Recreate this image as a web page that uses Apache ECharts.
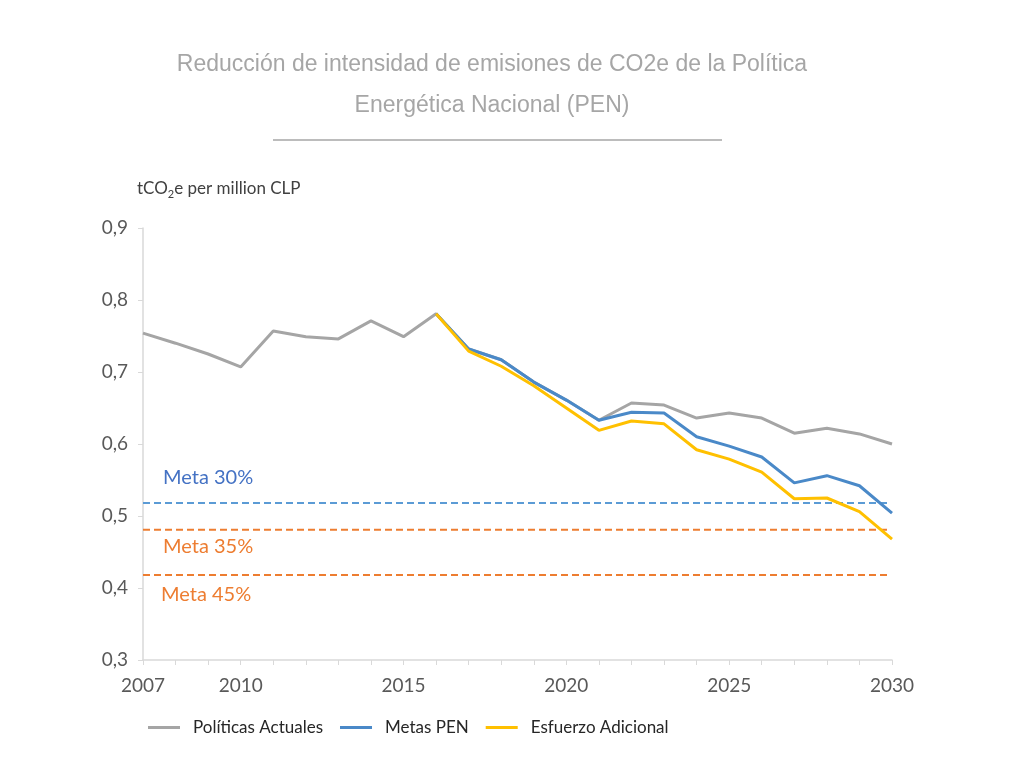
<!DOCTYPE html>
<html>
<head>
<meta charset="utf-8">
<title>Reducción de intensidad de emisiones</title>
<script src="https://cdn.jsdelivr.net/npm/echarts@6/dist/echarts.min.js"></script>
<style>
    html, body { margin: 0; padding: 0; background: #fff; }
    #main { width: 1024px; height: 768px; }
</style>
</head>
<body>
<div id="main"></div>
<script>
// años del eje x
const years = [2007, 2008, 2009, 2010, 2011, 2012, 2013, 2014, 2015, 2016, 2017, 2018,
    2019, 2020, 2021, 2022, 2023, 2024, 2025, 2026, 2027, 2028, 2029, 2030];
const yearLabels = [2007, 2010, 2015, 2020, 2025, 2030];

// tCO2e por millón CLP
const politicasActuales = [0.754, 0.740, 0.725, 0.707, 0.757, 0.749, 0.746, 0.771, 0.749, 0.781, 0.732, 0.717,
    0.686, 0.661, 0.633, 0.657, 0.654, 0.636, 0.643, 0.636, 0.615, 0.622, 0.614, 0.600];
const metasPEN = [null, null, null, null, null, null, null, null, null, 0.781, 0.732, 0.717,
    0.686, 0.661, 0.633, 0.644, 0.643, 0.610, 0.597, 0.582, 0.546, 0.556, 0.542, 0.504];
const esfuerzoAdicional = [null, null, null, null, null, null, null, null, null, 0.781, 0.729, 0.708,
    0.681, 0.650, 0.619, 0.632, 0.628, 0.592, 0.579, 0.561, 0.524, 0.525, 0.506, 0.468];

// metas (líneas punteadas)
const metaNames = ['Meta 30%', 'Meta 35%', 'Meta 45%'];
const metaValues = [0.518, 0.481, 0.418];
const metaSpan = [2007, 2029.85];

const myChart = echarts.init(document.getElementById('main'));

const pairs = (vals) => years.map((y, i) => [y, vals[i]]);
const fontCal = 'Lato, "Open Sans", sans-serif';

const metaColors = ['#5b9bd5', '#ed7d31', '#ed7d31'];
const metaLabelColors = ['#4472c4', '#ed7d31', '#ed7d31'];
const metaLabelY = [468, 537, 585];

let metaSeries = metaValues.map((v, i) => ({
    name: metaNames[i],
    type: 'line',
    data: metaSpan.map(x => [x, v]),
    symbol: 'none',
    silent: true,
    lineStyle: { color: metaColors[i], width: 2, type: [7, 4] },
    z: 1
}));

let option = {
    animation: false,
    backgroundColor: '#fff',
    title: {
        text: 'Reducción de intensidad de emisiones de CO2e de la Política\nEnergética Nacional (PEN)',
        left: 487,
        textAlign: 'center',
        top: 39,
        textStyle: {
            color: '#a6a6a6',
            fontFamily: '"Liberation Sans", Arial, sans-serif',
            fontWeight: 'normal',
            fontSize: 23,
            lineHeight: 41
        }
    },
    graphic: [
        {
            type: 'line',
            shape: { x1: 273, y1: 140, x2: 722, y2: 140 },
            style: { stroke: '#a6a6a6', lineWidth: 1.5 }
        },
        {
            type: 'text',
            left: 137,
            top: 180,
            style: {
                text: 'tCO{sub|2}e per million CLP',
                rich: {
                    sub: { fontSize: 11, padding: [11, 0, 0, 0], fill: '#404040', fontFamily: fontCal }
                },
                font: '17px ' + fontCal,
                fill: '#404040'
            }
        }
    ].concat(metaNames.map((n, i) => ({
        type: 'text',
        left: i === 2 ? 161 : 163,
        top: metaLabelY[i],
        style: { text: n, font: '20px ' + fontCal, fill: metaLabelColors[i] }
    }))),
    legend: {
        data: [
            { name: 'Políticas Actuales', icon: 'rect' },
            { name: 'Metas PEN', icon: 'rect' },
            { name: 'Esfuerzo Adicional', icon: 'rect' }
        ],
        left: 143,
        top: 714,
        itemWidth: 32,
        itemHeight: 3,
        itemGap: 17,
        textStyle: {
            color: '#262626',
            fontSize: 17,
            fontFamily: fontCal,
            padding: [0, 0, 0, 8]
        }
    },
    grid: {
        left: 143,
        right: 132,
        top: 228,
        bottom: 108,
        containLabel: false
    },
    xAxis: {
        type: 'value',
        min: 2007,
        max: 2030,
        interval: 1,
        axisLine: { lineStyle: { color: '#d9d9d9', width: 1.5 } },
        axisTick: { show: true, length: 5, lineStyle: { color: '#d9d9d9' } },
        splitLine: { show: false },
        axisLabel: {
            color: '#595959',
            fontSize: 19,
            fontFamily: fontCal,
            margin: 16,
            formatter: (v) => yearLabels.indexOf(v) >= 0 ? String(v) : ''
        }
    },
    yAxis: {
        type: 'value',
        min: 0.3,
        max: 0.9,
        interval: 0.1,
        axisLine: { show: true, lineStyle: { color: '#d9d9d9', width: 1.5 } },
        axisTick: { show: true, length: 5, lineStyle: { color: '#d9d9d9' } },
        splitLine: { show: false },
        axisLabel: {
            color: '#595959',
            fontSize: 19,
            fontFamily: fontCal,
            margin: 15,
            formatter: (v) => v.toFixed(1).replace('.', ',')
        }
    },
    series: metaSeries.concat([
        {
            name: 'Políticas Actuales',
            type: 'line',
            data: pairs(politicasActuales),
            symbol: 'none',
            lineStyle: { color: '#a5a5a5', width: 3 },
            itemStyle: { color: '#a5a5a5' },
            z: 2
        },
        {
            name: 'Metas PEN',
            type: 'line',
            data: pairs(metasPEN),
            symbol: 'none',
            lineStyle: { color: '#4a89c8', width: 3 },
            itemStyle: { color: '#4a89c8' },
            z: 3
        },
        {
            name: 'Esfuerzo Adicional',
            type: 'line',
            data: pairs(esfuerzoAdicional),
            symbol: 'none',
            lineStyle: { color: '#ffc000', width: 3 },
            itemStyle: { color: '#ffc000' },
            z: 4
        }
    ])
};

myChart.setOption(option);
</script>
</body>
</html>
